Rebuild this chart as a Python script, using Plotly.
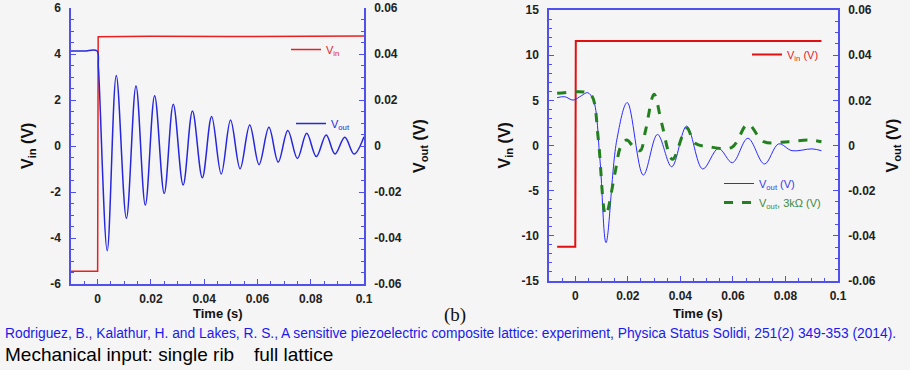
import plotly.graph_objects as go

# ---------------- data ----------------
# Left panel: single rib
L_vin_t = [-0.01, -0.005, 0.0, 0.0002, 0.02, 0.05, 0.08, 0.1]
L_vin_v = [-5.45, -5.45, -5.45, 4.75, 4.77, 4.76, 4.78, 4.78]

L_vout_t = [-0.01, -0.005, -0.0003, 0.0003, 0.0036, 0.0070, 0.0108, 0.0144, 0.0179,
            0.0214, 0.0250, 0.0284, 0.0321, 0.0356, 0.0393, 0.0428, 0.0464, 0.0499,
            0.0535, 0.0571, 0.0606, 0.0643, 0.0678, 0.0714, 0.0750, 0.0785, 0.0821,
            0.0858, 0.0891, 0.0928, 0.0963, 0.1]
L_vout_v = [0.0413, 0.0413, 0.0414, 0.034, -0.0455, 0.0307, -0.0314, 0.0261, -0.0257,
            0.0219, -0.0206, 0.0181, -0.0170, 0.0152, -0.0138, 0.0128, -0.0122, 0.0113,
            -0.0099, 0.0091, -0.0081, 0.0081, -0.0070, 0.0067, -0.0054, 0.0055, -0.0046,
            0.0048, -0.0035, 0.0038, -0.0035, 0.0040]

# Right panel: full lattice
R_vin_t = [-0.0069, 0.0, 0.0002, 0.0937]
R_vin_v = [-11.2, -11.2, 11.57, 11.57]

R_vout_t = [-0.0069, -0.004, -0.0008, 0.0024, 0.0047, 0.0069, 0.0094, 0.0117, 0.0158,
            0.0198, 0.0259, 0.0313, 0.0367, 0.0424, 0.0485, 0.0545, 0.0598, 0.0657,
            0.0720, 0.0774, 0.0825, 0.0901, 0.0937]
R_vout_v = [0.0212, 0.0216, 0.0201, 0.0221, 0.0234, 0.0201, -0.0064, -0.0430, 0.0024,
            0.0190, -0.0131, 0.0049, -0.0094, 0.0086, -0.0104, -0.0013, -0.0076, 0.0032,
            -0.0082, 0.0007, -0.0023, -0.0015, -0.0023]

R_v3k_t = [-0.0069, 0.0043, 0.0065, 0.0088, 0.0116, 0.0151, 0.0173, 0.0196, 0.0221,
           0.0247, 0.0268, 0.0300, 0.0329, 0.0370, 0.0424, 0.0456, 0.0507, 0.0596,
           0.0657, 0.0717, 0.0812, 0.0888, 0.0937]
R_v3k_v = [0.0231, 0.0235, 0.0216, 0.0024, -0.0308, -0.0123, -0.0005, 0.0024, -0.0005,
           -0.0023, 0.0069, 0.0227, 0.0098, -0.0061, 0.0076, 0.0010, -0.0005, -0.0008,
           0.0094, 0.0017, 0.0017, 0.0024, 0.0017]

x_ticks = [0, 0.02, 0.04, 0.06, 0.08, 0.1]
x_tick_labels = ["0", "0.02", "0.04", "0.06", "0.08", "0.1"]
L_y_ticks = [-6, -4, -2, 0, 2, 4, 6]
R_y_ticks = [-15, -10, -5, 0, 5, 10, 15]
out_ticks = [-0.06, -0.04, -0.02, 0, 0.02, 0.04, 0.06]
out_tick_labels = ["-0.06", "-0.04", "-0.02", "0", "0.02", "0.04", "0.06"]

citation = ("Rodriguez, B., Kalathur, H. and Lakes, R. S., A sensitive piezoelectric composite "
            "lattice: experiment, Physica Status Solidi, 251(2) 349-353 (2014).")

# ---------------- styles ----------------
W, H = 910, 370
BG = "#f5f5f5"
AXC = "#5050ee"
TICKFONT = dict(family="Liberation Sans, Arial", size=12, color="#222222", weight="bold")
RED = "#e82020"
BLUE = "#2626dd"
GREEN = "#23801f"

fig = go.Figure()

fig.add_trace(go.Scatter(x=L_vin_t, y=L_vin_v, mode="lines", xaxis="x", yaxis="y",
                         line=dict(color=RED, width=1.5),
                         name="V<sub>in</sub>", legend="legend"))
fig.add_trace(go.Scatter(x=L_vout_t, y=L_vout_v, mode="lines", xaxis="x", yaxis="y2",
                         line=dict(color=BLUE, width=1.5, shape="spline", smoothing=1.0),
                         name="V<sub>out</sub>", legend="legend2"))

fig.add_trace(go.Scatter(x=R_vin_t, y=R_vin_v, mode="lines", xaxis="x2", yaxis="y3",
                         line=dict(color="#e01010", width=2),
                         name="V<sub>in</sub> (V)", legend="legend3"))
fig.add_trace(go.Scatter(x=R_vout_t, y=R_vout_v, mode="lines", xaxis="x2", yaxis="y4",
                         line=dict(color="#2b2bff", width=1, shape="spline", smoothing=1.0),
                         name="<span style='color:#3a3aee'>V<sub>out</sub> (V)</span>",
                         legend="legend4"))
fig.add_trace(go.Scatter(x=R_v3k_t, y=R_v3k_v, mode="lines", xaxis="x2", yaxis="y4",
                         line=dict(color=GREEN, width=3, dash="dash", shape="spline", smoothing=1.0),
                         name="<span style='color:#3f8a3c'>V<sub>out</sub>, 3kΩ (V)</span>",
                         legend="legend4"))


def xax(domain, anchor, mirror):
    return dict(domain=domain, anchor=anchor, range=[-0.01, 0.1], automargin=False,
                tickvals=x_ticks, ticktext=x_tick_labels, tickfont=TICKFONT,
                showline=True, linecolor=AXC, linewidth=1.5, mirror=mirror,
                ticks="inside", ticklen=5, tickcolor=AXC, tickwidth=1,
                minor=dict(dtick=0.005, tick0=0, ticks="inside", ticklen=3, tickcolor=AXC),
                showgrid=False, zeroline=False, ticklabelstandoff=3)


def yax(domain, anchor, rng, tv, tt, dminor, side="left", overlaying=None):
    d = dict(domain=domain, anchor=anchor, range=rng, side=side, automargin=False,
             tickvals=tv, ticktext=tt, tickfont=TICKFONT,
             showline=True, linecolor=AXC, linewidth=1.5,
             ticks="inside", ticklen=5, tickcolor=AXC, tickwidth=1,
             minor=dict(dtick=dminor, tick0=0, ticks="inside", ticklen=3, tickcolor=AXC),
             showgrid=False, zeroline=False, ticklabelstandoff=6)
    if overlaying:
        d["overlaying"] = overlaying
    return d


Ldom = [71 / W, 364 / W]
Rdom = [549 / W, 838 / W]
Lydom = [1 - 284 / H, 1 - 8 / H]
Rydom = [1 - 281 / H, 1 - 10 / H]

legfont = dict(family="Liberation Sans, Arial", size=11)

fig.update_layout(
    width=W, height=H,
    paper_bgcolor=BG, plot_bgcolor=BG,
    margin=dict(l=0, r=0, t=0, b=0, autoexpand=False),
    showlegend=True,
    xaxis=xax(Ldom, "y", False),
    yaxis=yax(Lydom, "x", [-6, 6], L_y_ticks, [str(v) for v in L_y_ticks], 0.5),
    yaxis2=yax(Lydom, "x", [-0.06, 0.06], out_ticks, out_tick_labels, 0.005,
               side="right", overlaying="y"),
    xaxis2=xax(Rdom, "y3", True),
    yaxis3=yax(Rydom, "x2", [-15, 15], R_y_ticks, [str(v) for v in R_y_ticks], 1),
    yaxis4=yax(Rydom, "x2", [-0.06, 0.06], out_ticks, out_tick_labels, 0.005,
               side="right", overlaying="y3"),
    legend=dict(x=286 / W, y=1 - 35 / H, xanchor="left", yanchor="top",
                bgcolor="rgba(0,0,0,0)", font=dict(color=RED, **legfont),
                itemwidth=30, tracegroupgap=0),
    legend2=dict(x=291 / W, y=1 - 109 / H, xanchor="left", yanchor="top",
                 bgcolor="rgba(0,0,0,0)", font=dict(color=BLUE, **legfont),
                 itemwidth=30),
    legend3=dict(x=747 / W, y=1 - 40 / H, xanchor="left", yanchor="top",
                 bgcolor="rgba(0,0,0,0)", font=dict(color=RED, **legfont),
                 itemwidth=30),
    legend4=dict(x=719 / W, y=1 - 169 / H, xanchor="left", yanchor="top",
                 bgcolor="rgba(0,0,0,0)", font=legfont, itemwidth=30,
                 tracegroupgap=0),
)

TITLEFONT = dict(family="Liberation Sans, Arial", size=16, color="#111111")
ann = [
    dict(x=28 / W, y=(Lydom[0] + Lydom[1]) / 2, text="<b>V<sub>in</sub> (V)</b>", textangle=-90),
    dict(x=420 / W, y=(Lydom[0] + Lydom[1]) / 2, text="<b>V<sub>out</sub> (V)</b>", textangle=-90),
    dict(x=505 / W, y=(Rydom[0] + Rydom[1]) / 2, text="<b>V<sub>in</sub> (V)</b>", textangle=-90),
    dict(x=893 / W, y=(Rydom[0] + Rydom[1]) / 2, text="<b>V<sub>out</sub> (V)</b>", textangle=-90),
]
for a in ann:
    fig.add_annotation(xref="paper", yref="paper", showarrow=False,
                       xanchor="center", yanchor="middle", font=TITLEFONT, **a)

fig.add_annotation(xref="paper", yref="paper", x=218 / W, y=1 - 313 / H, showarrow=False,
                   text="<b>Time (s)</b>", xanchor="center", yanchor="middle",
                   font=dict(family="Liberation Sans, Arial", size=13, color="#111111"))
fig.add_annotation(xref="paper", yref="paper", x=698 / W, y=1 - 313 / H, showarrow=False,
                   text="<b>Time (s)</b>", xanchor="center", yanchor="middle",
                   font=dict(family="Liberation Sans, Arial", size=13, color="#111111"))
fig.add_annotation(xref="paper", yref="paper", x=455 / W, y=1 - 315 / H, showarrow=False,
                   text="(b)", xanchor="center", yanchor="middle",
                   font=dict(family="Liberation Serif, DejaVu Serif", size=19, color="#111111"))
fig.add_annotation(xref="paper", yref="paper", x=3 / W, y=1 - 333 / H, showarrow=False,
                   text=citation, xanchor="left", yanchor="middle",
                   font=dict(family="Liberation Sans, Arial", size=13.8, color="#1a1aee"))
fig.add_annotation(xref="paper", yref="paper", x=3 / W, y=1 - 354 / H, showarrow=False,
                   text="Mechanical input: single rib", xanchor="left", yanchor="middle",
                   font=dict(family="Liberation Sans, Arial", size=19, color="#000000"))
fig.add_annotation(xref="paper", yref="paper", x=252 / W, y=1 - 354 / H, showarrow=False,
                   text="full lattice", xanchor="left", yanchor="middle",
                   font=dict(family="Liberation Sans, Arial", size=19, color="#000000"))

fig.write_html(
    "out.html",
    config={"displayModeBar": False},
    post_script="document.body.style.margin='0';document.body.style.background='#f5f5f5';",
)
